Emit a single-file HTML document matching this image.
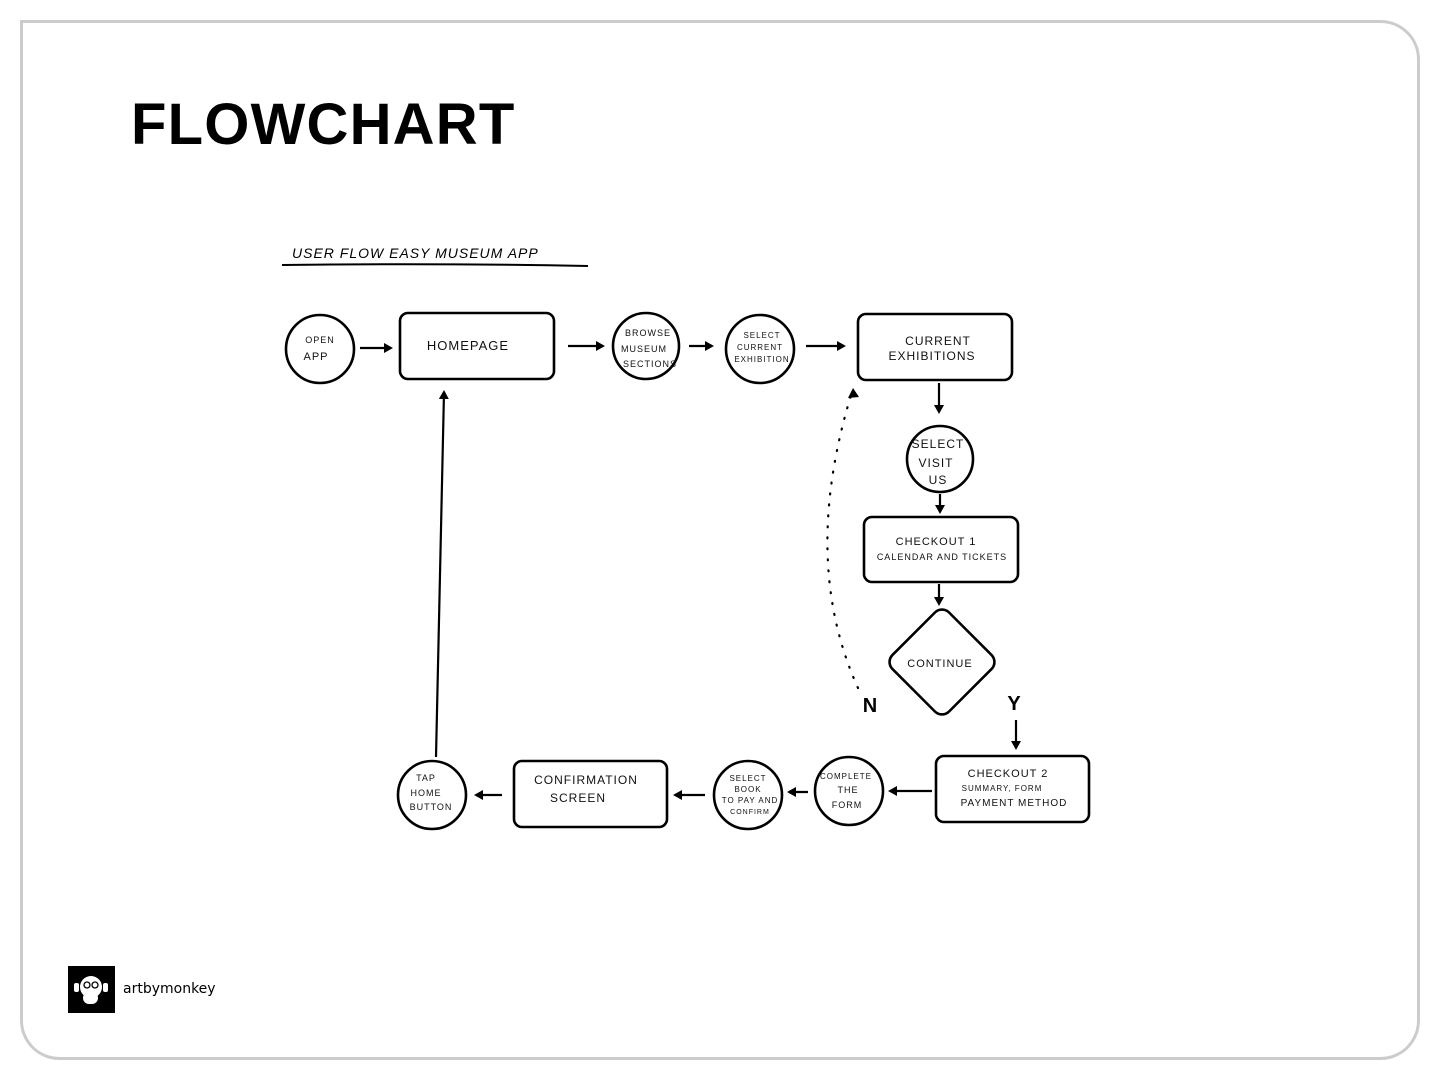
<!DOCTYPE html>
<html><head><style>
html,body{margin:0;padding:0;background:#fff;}
svg{display:block}
.h{font-family:"Liberation Sans",sans-serif;font-size:11px;fill:#111;text-anchor:middle;letter-spacing:1px}
</style></head><body>
<svg width="1440" height="1080" viewBox="0 0 1440 1080" xmlns="http://www.w3.org/2000/svg">
<defs><marker id="a" markerWidth="10" markerHeight="10" refX="7" refY="5" orient="auto" markerUnits="userSpaceOnUse"><path d="M0,0 L9,5 L0,10 Z" fill="#000"/></marker></defs>
<path d="M21.5,21.5 H1380 A38,38 0 0 1 1418.5,59.5 V1020 A38,38 0 0 1 1380,1058.5 H60 A38,38 0 0 1 21.5,1020 Z" fill="#fff" stroke="#ccc" stroke-width="3"/>
<text x="131" y="144" font-family="Liberation Sans,sans-serif" font-weight="bold" font-size="58" fill="#000" letter-spacing="1.2">FLOWCHART</text>
<text x="292" y="258" font-family="Liberation Sans,sans-serif" font-style="italic" font-size="14" fill="#000" letter-spacing="1">USER FLOW EASY MUSEUM APP</text>
<path d="M282,265 Q440,263 588,266" stroke="#000" stroke-width="2" fill="none"/>
<g stroke="#000" stroke-width="2.6" fill="none">
<circle cx="320" cy="349" r="34"/>
<rect x="400" y="313" width="154" height="66" rx="8"/>
<circle cx="646" cy="346" r="33"/>
<circle cx="760" cy="349" r="34"/>
<rect x="858" y="314" width="154" height="66" rx="8"/>
<circle cx="940" cy="459" r="33"/>
<rect x="864" y="517" width="154" height="65" rx="8"/>
<rect x="902" y="622" width="80" height="80" rx="10" transform="rotate(45 942 662)"/>
<rect x="936" y="756" width="153" height="66" rx="8"/>
<circle cx="849" cy="791" r="34"/>
<circle cx="748" cy="795" r="34"/>
<rect x="514" y="761" width="153" height="66" rx="8"/>
<circle cx="432" cy="795" r="34"/>
</g>
<g stroke="#000" stroke-width="2.2" fill="none" marker-end="url(#a)">
<path d="M360,348 H391"/>
<path d="M568,346 H603"/>
<path d="M689,346 H712"/>
<path d="M806,346 H844"/>
<path d="M939,383 V412"/>
<path d="M940,494 V512"/>
<path d="M939,584 V604"/>
<path d="M1016,720 V748"/>
<path d="M932,791 H890"/>
<path d="M808,792 H789"/>
<path d="M705,795 H675"/>
<path d="M502,795 H476"/>
<path d="M436,757 L444,392"/>
</g>
<path d="M858,688 Q800,560 852,392" stroke="#000" stroke-width="2.2" fill="none" stroke-dasharray="1 10" stroke-linecap="round"/>
<path d="M848,398 L853,388 L859,397 Z" fill="#000"/>
<text x="870" y="712" font-family="Liberation Sans,sans-serif" font-weight="bold" font-size="20" text-anchor="middle">N</text>
<text x="1014" y="710" font-family="Liberation Sans,sans-serif" font-weight="bold" font-size="20" text-anchor="middle">Y</text>
<g class="h">
<text x="320" y="343" font-size="9">OPEN</text><text x="316" y="360">APP</text>
<text x="468" y="350" font-size="13">HOMEPAGE</text>
<text x="648" y="336" font-size="9">BROWSE</text><text x="644" y="352" font-size="9">MUSEUM</text><text x="650" y="367" font-size="9">SECTIONS</text>
<text x="762" y="338" font-size="8">SELECT</text><text x="760" y="350" font-size="8">CURRENT</text><text x="762" y="362" font-size="8">EXHIBITION</text>
<text x="938" y="345" font-size="12">CURRENT</text><text x="932" y="360" font-size="12">EXHIBITIONS</text>
<text x="938" y="448" font-size="12">SELECT</text><text x="936" y="467" font-size="12">VISIT</text><text x="938" y="484" font-size="12">US</text>
<text x="936" y="545" font-size="11">CHECKOUT 1</text><text x="942" y="560" font-size="9">CALENDAR AND TICKETS</text>
<text x="940" y="667" font-size="11">CONTINUE</text>
<text x="1008" y="777" font-size="11">CHECKOUT 2</text><text x="1002" y="791" font-size="8">SUMMARY, FORM</text><text x="1014" y="806" font-size="10">PAYMENT METHOD</text>
<text x="846" y="779" font-size="8">COMPLETE</text><text x="848" y="793" font-size="9">THE</text><text x="847" y="808" font-size="9">FORM</text>
<text x="748" y="781" font-size="8">SELECT</text><text x="748" y="792" font-size="8">BOOK</text><text x="750" y="803" font-size="8">TO PAY AND</text><text x="750" y="814" font-size="7">CONFIRM</text>
<text x="586" y="784" font-size="12">CONFIRMATION</text><text x="578" y="802" font-size="12">SCREEN</text>
<text x="426" y="781" font-size="9">TAP</text><text x="426" y="796" font-size="9">HOME</text><text x="431" y="810" font-size="9">BUTTON</text>
</g>
<rect x="68" y="966" width="47" height="47" fill="#000"/>
<circle cx="91" cy="987" r="11" fill="#fff"/>
<rect x="83" y="992" width="15" height="12" rx="6" fill="#fff"/>
<rect x="74" y="983" width="5" height="9" rx="2" fill="#fff"/><rect x="103" y="983" width="5" height="9" rx="2" fill="#fff"/>
<circle cx="87" cy="985" r="3" fill="none" stroke="#000" stroke-width="1.3"/><circle cx="95" cy="985" r="3" fill="none" stroke="#000" stroke-width="1.3"/>
<text x="123" y="993" font-family="DejaVu Sans,sans-serif" font-size="14" fill="#000">artbymonkey</text>
</svg>
</body></html>
